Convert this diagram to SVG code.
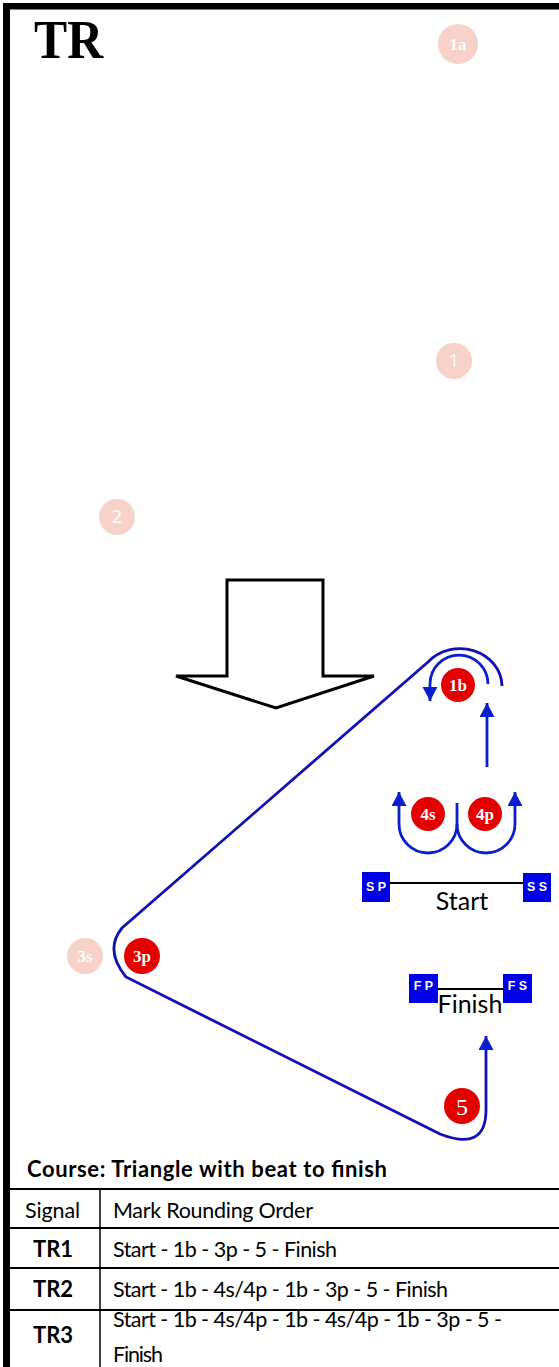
<svg xmlns="http://www.w3.org/2000/svg" width="559" height="1367" viewBox="0 0 559 1367">
<style>
.pale{fill:#f7d2c9}
.red{fill:#e40000}
.pt{font-family:"Liberation Serif",serif;fill:#fff;font-size:17px;font-weight:bold;text-anchor:middle}
.ps{font-family:"Open Sans","Liberation Sans",sans-serif;fill:#fff;font-size:18px;text-anchor:middle}
.rt{font-family:"Liberation Serif",serif;fill:#fff;font-size:17px;font-weight:bold;text-anchor:middle}
.box{fill:#0000e6}
.bt{font-family:"Liberation Sans",sans-serif;fill:#fff;font-size:12.5px;font-weight:bold;text-anchor:middle}
.course{fill:none;stroke:#1010b4;stroke-width:2.8}
.arr{fill:none;stroke:#0a1ed0;stroke-width:2.8}
.lbl{font-family:Lato,"Liberation Sans",sans-serif;fill:#000;font-size:25px}
.tb{font-family:Lato,"Liberation Sans",sans-serif;fill:#000;font-size:21.5px}
.tbb{font-family:Lato,"Liberation Sans",sans-serif;fill:#000;font-size:22px;font-weight:bold}
.ln{stroke:#000;stroke-width:2}
</style>
<defs>
<marker id="ah" markerUnits="userSpaceOnUse" markerWidth="15" markerHeight="15" refX="14" refY="7.5" orient="auto">
<path d="M0,0 L14,7.5 L0,15 z" fill="#0a1ed0"/>
</marker>
</defs>
<rect x="0" y="0" width="559" height="1367" fill="#fff"/>
<g id="border">
<rect x="3" y="3" width="556" height="6.5" fill="#000"/>
<rect x="3" y="3" width="7" height="1364" fill="#000"/>
</g>
<g id="title"><text x="34" y="58" font-family="Liberation Serif,serif" font-weight="bold" font-size="54" textLength="69" lengthAdjust="spacingAndGlyphs">TR</text></g>
<g id="mark-1a"><circle cx="458" cy="44" r="20" class="pale"/><text x="458" y="50" class="pt">1a</text></g>
<g id="mark-1"><circle cx="454" cy="361" r="18" class="pale"/><text x="454" y="367" class="ps">1</text></g>
<g id="mark-2"><circle cx="117" cy="517" r="18" class="pale"/><text x="117" y="523" class="ps">2</text></g>
<g id="wind-arrow"><path d="M227 580 L323 580 L323 676 L374 676 L276 708 L176 676 L227 676 Z" fill="#fff" stroke="#000" stroke-width="3" stroke-linejoin="miter"/></g>
<g id="connectors">
<path class="course" d="M502 686 A42 38 0 0 0 428 662 L122 928 Q104 950 126 977 L440 1134 Q486 1152 486 1110 L486 1036" marker-end="url(#ah)"/>
<path class="arr" d="M488 684 A29 29 0 0 0 430 684 L430 701" marker-end="url(#ah)"/>
<path class="arr" d="M487 767 L487 703" marker-end="url(#ah)"/>
<path class="arr" d="M457 803 L457 824 A29 29 0 0 0 515 824 L515 792" marker-end="url(#ah)"/>
<path class="arr" d="M457 824 A29 29 0 0 1 399 824 L399 792" marker-end="url(#ah)"/>
</g>
<g id="mark-1b"><circle cx="458" cy="685" r="17" class="red"/><text x="458" y="691" class="rt">1b</text></g>
<g id="mark-4s"><circle cx="428" cy="814" r="17" class="red"/><text x="428" y="820" class="rt">4s</text></g>
<g id="mark-4p"><circle cx="485" cy="814" r="17" class="red"/><text x="485" y="820" class="rt">4p</text></g>
<g id="start-line">
<line x1="390" y1="883" x2="523" y2="883" class="ln"/>
<rect x="362" y="872" width="28" height="30" class="box"/><text x="376" y="891" class="bt">S P</text>
<rect x="523" y="873" width="28" height="29" class="box"/><text x="537" y="891" class="bt">S S</text>
<text x="462" y="910" class="lbl" text-anchor="middle">Start</text>
</g>
<g id="mark-3s"><circle cx="85" cy="956" r="18" class="pale"/><text x="85" y="962" class="pt">3s</text></g>
<g id="mark-3p"><circle cx="142" cy="956" r="18" class="red"/><text x="142" y="962" class="rt">3p</text></g>
<g id="finish-line">
<line x1="438" y1="989" x2="503" y2="989" class="ln"/>
<rect x="409" y="974" width="29" height="29" class="box"/><text x="423.5" y="990" class="bt">F P</text>
<rect x="503" y="974" width="29" height="29" class="box"/><text x="517.5" y="990" class="bt">F S</text>
<text x="470" y="1013" class="lbl" text-anchor="middle">Finish</text>
</g>
<g id="mark-5"><circle cx="462" cy="1106" r="18" class="red"/><text x="462" y="1115" font-family="Liberation Serif,serif" font-size="24" fill="#fff" text-anchor="middle">5</text></g>
<g id="table">
<text x="27" y="1177" class="tbb" font-size="24" textLength="360">Course: Triangle with beat to finish</text>
<line x1="9" y1="1189" x2="559" y2="1189" class="ln"/>
<line x1="9" y1="1228" x2="559" y2="1228" class="ln"/>
<line x1="9" y1="1268" x2="559" y2="1268" class="ln"/>
<line x1="9" y1="1310" x2="559" y2="1310" class="ln"/>
<line x1="100" y1="1189" x2="100" y2="1367" stroke="#000" stroke-width="1.5"/>
<text x="25" y="1218" class="tb" textLength="55">Signal</text>
<text x="113" y="1218" class="tb" textLength="200">Mark Rounding Order</text>
<text x="53" y="1257" class="tbb" text-anchor="middle">TR1</text>
<text x="113" y="1257" class="tb" textLength="224">Start - 1b - 3p - 5 - Finish</text>
<text x="53" y="1297" class="tbb" text-anchor="middle">TR2</text>
<text x="113" y="1297" class="tb" textLength="335">Start - 1b - 4s/4p - 1b - 3p - 5 - Finish</text>
<text x="53" y="1343" class="tbb" text-anchor="middle">TR3</text>
<text x="113" y="1327" class="tb" textLength="389">Start - 1b - 4s/4p - 1b - 4s/4p - 1b - 3p - 5 -</text>
<text x="113" y="1362" class="tb" textLength="50">Finish</text>
</g>
</svg>
